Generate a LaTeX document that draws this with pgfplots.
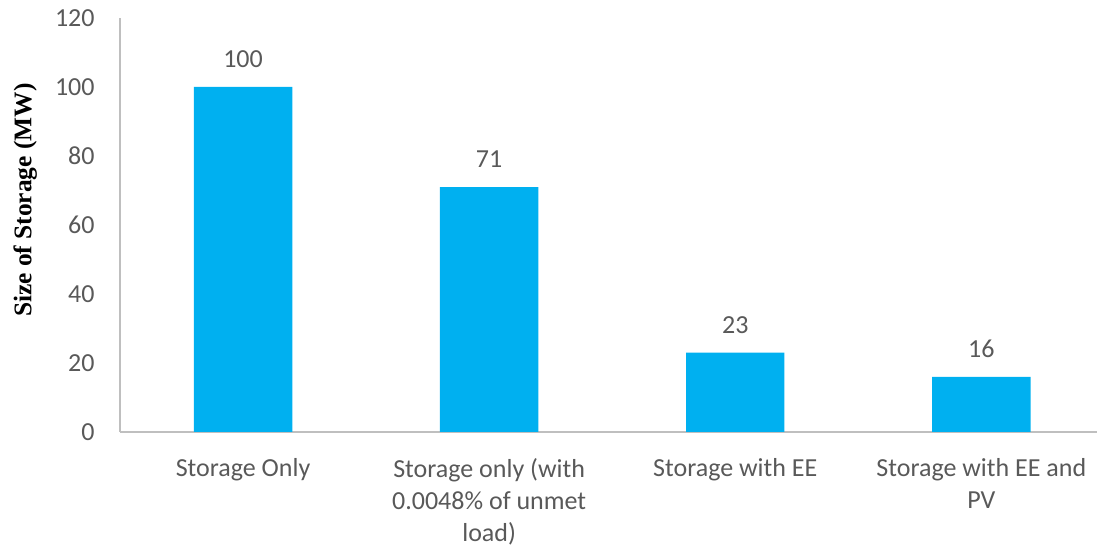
\documentclass[border=0pt]{standalone}
\usepackage{pgfplots}
\pgfplotsset{compat=1.18}
\usepackage{fontspec}
\setmainfont{Carlito}
\newfontfamily\tnr{Liberation Serif}
\definecolor{barblue}{HTML}{00B0F0}
\definecolor{txtgray}{HTML}{595959}
\definecolor{axgray}{HTML}{BFBFBF}
\begin{document}
\begin{tikzpicture}
\begin{axis}[
  at={(0,0)}, anchor=south west,
  scale only axis,
  width=488.5pt, height=207pt,
  xmin=-0.5, xmax=3.47,
  ymin=0, ymax=120,
  ytick={0,20,...,120},
  xtick={0,1,2,3},
  xticklabels={{Storage Only},{Storage only (with\\0.0048\% of unmet\\load)},{Storage with EE},{Storage with EE and\\PV}},
  axis x line=bottom, axis y line=left,
  axis line style={-, draw=axgray, line width=1pt},
  major tick length=0pt,
  /pgf/number format/assume math mode=true,
  ticklabel style={font=\fontsize{13}{16}\selectfont, text=txtgray},
  yticklabel style={anchor=east, inner sep=0pt, xshift=-12.5pt},
  xticklabel style={anchor=north, inner sep=0pt, yshift=-13pt, align=center},
  ylabel={\tnr\bfseries Size of Storage (MW)},
  ylabel style={at={(rel axis cs:-0.097,0.56)}, anchor=center, font=\fontsize{12.7}{14}\selectfont, text=black},
  ybar, bar width=0.4,
  nodes near coords,
  nodes near coords style={anchor=south, inner sep=0pt, yshift=9.5pt, font=\fontsize{13}{15}\selectfont, text=txtgray},
  clip=false,
]
\addplot[fill=barblue, draw=none] coordinates {(0,100) (1,71) (2,23) (3,16)};
\end{axis}
\pgfresetboundingbox
\useasboundingbox (-60pt,-56.5pt) rectangle (488.5pt,216pt);
\end{tikzpicture}
\end{document}
